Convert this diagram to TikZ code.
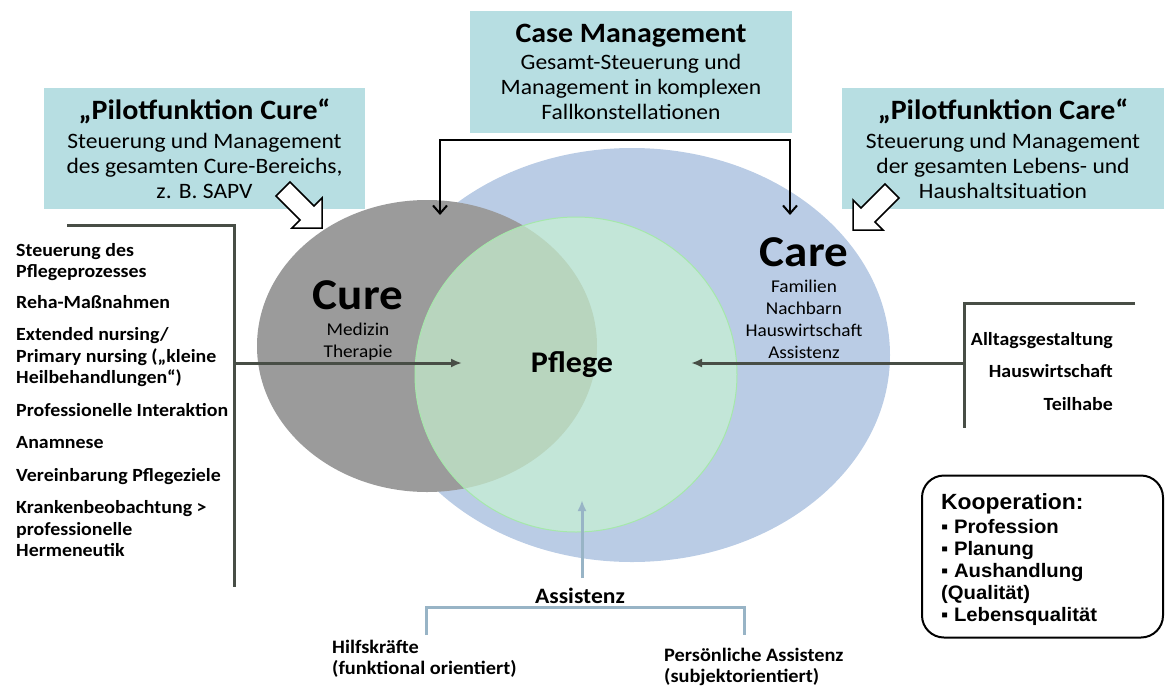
\documentclass[tikz,border=0pt]{standalone}
\usepackage{fontspec}
\setmainfont{Carlito}[FakeStretch=1.07]
\newfontfamily\arialfont{Liberation Sans}[FakeStretch=1.04]
\usepackage{tikz}
\usetikzlibrary{shapes,arrows,arrows.meta,positioning}
\definecolor{boxteal}{RGB}{183,222,226}
\definecolor{curegray}{RGB}{155,155,155}
\definecolor{careblue}{RGB}{186,204,229}
\definecolor{pflegegreen}{RGB}{200,245,210}
\definecolor{pflegeedge}{RGB}{165,232,170}
\definecolor{bracketgray}{RGB}{72,78,70}
\definecolor{assistblue}{RGB}{152,180,198}
\tikzstyle{pilot} = [rectangle, fill=boxteal, draw=none, align=center, inner sep=0pt, minimum width=321pt, minimum height=121pt, font=\fontsize{22}{25}\selectfont]
\tikzstyle{bigtitle} = [draw=none, fill=none, inner sep=0pt, font=\fontsize{44}{48}\selectfont\bfseries]
\tikzstyle{subtext} = [draw=none, fill=none, inner sep=0pt, align=center, font=\fontsize{18}{22}\selectfont]
\tikzstyle{listtext} = [draw=none, fill=none, inner sep=0pt, align=left, font=\fontsize{18.6}{21.5}\selectfont\bfseries]
\tikzstyle{bracket} = [draw=bracketgray, line width=3pt]
\tikzstyle{bracketarrow} = [draw=bracketgray, line width=3pt, -{Latex[length=11pt,width=9pt]}]
\tikzstyle{cmarrow} = [draw=black, line width=2pt, {Straight Barb[length=8pt,width=14pt]}-{Straight Barb[length=8pt,width=14pt]}]
\tikzstyle{blockarrow} = [draw=black, fill=white, line width=1.5pt, line join=miter]
\tikzstyle{assistline} = [draw=assistblue, line width=3pt]
\tikzstyle{assistarrow} = [draw=assistblue, line width=3pt, -{Latex[length=11pt,width=9pt]}]
\tikzstyle{koopbox} = [rectangle, rounded corners=22pt, draw=black, line width=2pt, fill=white, minimum width=241pt, minimum height=162pt]

\begin{document}
\begin{tikzpicture}[x=1pt, y=-1pt]
\useasboundingbox (0,0) rectangle (1165,686);

% circles =============================
\node[ellipse, fill=careblue, inner sep=0pt, minimum width=516pt, minimum height=414pt] (care) at (632,355) {};
\node[ellipse, fill=curegray, inner sep=0pt, minimum width=340pt, minimum height=292pt] (cure) at (427,346) {};
\node[ellipse, fill=pflegegreen, fill opacity=0.65, draw=pflegeedge, line width=1pt, inner sep=0pt, minimum width=322pt, minimum height=315pt] (pflege) at (576,374.5) {};

\node[bigtitle] (curetitle) at (358,295) {Cure};
\node[subtext, anchor=north] (curesub) at (358,323) {Medizin\\Therapie};
\node[bigtitle] (caretitle) at (804,252) {Care};
\node[subtext, anchor=north] (caresub) at (804,280) {Familien\\Nachbarn\\Hauswirtschaft\\Assistenz};
\node[bigtitle, font=\fontsize{30}{32}\selectfont\bfseries, anchor=base] (pflegetitle) at (572,372) {Pflege};

% boxes =============================
\node[pilot] (pilotcure) at (204.5,148.5) {{\fontsize{28}{30}\selectfont\bfseries „Pilotfunktion Cure“}\\[4pt]Steuerung und Management\\des gesamten Cure-Bereichs,\\z. B. SAPV};
\node[pilot, minimum width=322pt, minimum height=122pt] (casemgmt) at (631,72) {{\fontsize{28}{30}\selectfont\bfseries Case Management}\\[2pt]Gesamt-Steuerung und\\Management in komplexen\\Fallkonstellationen};
\node[pilot, minimum width=322pt] (pilotcare) at (1003,148.5) {{\fontsize{28}{30}\selectfont\bfseries „Pilotfunktion Care“}\\[4pt]Steuerung und Management\\der gesamten Lebens- und\\Haushaltsituation};

% pilot arrows
\coordinate (curetip) at (322,228);
\coordinate (caretip) at (853,230);
\draw[blockarrow, shift={(curetip)}] (0,0) -- (-30,0) -- (-22,-8) -- (-46,-32) -- (-32,-46) -- (-8,-22) -- (0,-30) -- cycle;
\draw[blockarrow, shift={(caretip)}] (0,0) -- (30,0) -- (22,-8) -- (46,-32) -- (32,-46) -- (8,-22) -- (0,-30) -- cycle;

% case management edges
\coordinate (cmleft) at (440,215);
\coordinate (cmright) at (790,215);
\coordinate (cmtop) at (615,140);
\path[cmarrow] (cmleft) |- (cmtop) -| (cmright);

% lists =============================
\node[listtext, anchor=north west] (curelist) at (16,243) {Steuerung des\\Pflegeprozesses\\[9pt]Reha-Maßnahmen\\[11pt]Extended nursing/\\Primary nursing („kleine\\Heilbehandlungen“)\\[11pt]Professionelle Interaktion\\[11pt]Anamnese\\[11pt]Vereinbarung Pflegeziele\\[11pt]Krankenbeobachtung >\\professionelle\\Hermeneutik};
\node[listtext, align=right, anchor=north east] (carelist) at (1113,332) {Alltagsgestaltung\\[11pt]Hauswirtschaft\\[11pt]Teilhabe};

\coordinate (lbstart) at (67,225);
\coordinate (lbcorner) at (234,225);
\coordinate (lbend) at (234,587);
\coordinate (lbjoin) at (234,363);
\coordinate (pflegeleft) at (462,363);
\path[bracket] (lbstart) -- (lbcorner) -- (lbend);
\path[bracketarrow] (lbjoin) -- (pflegeleft);

\coordinate (rbstart) at (1135,303);
\coordinate (rbcorner) at (964,303);
\coordinate (rbend) at (964,428);
\coordinate (rbjoin) at (964,363);
\coordinate (pflegeright) at (691,363);
\path[bracket] (rbstart) -- (rbcorner) -- (rbend);
\path[bracketarrow] (rbjoin) -- (pflegeright);

% assistenz =============================
\node[listtext, font=\fontsize{22}{24}\selectfont\bfseries] (assist) at (580,596) {Assistenz};
\coordinate (assistbot) at (582,578);
\coordinate (assisttip) at (582,500);
\path[assistarrow] (assistbot) -- (assisttip);

\coordinate (abl) at (426,635);
\coordinate (abr) at (744,635);
\coordinate (abtop) at (585,607);
\path[assistline] (abl) |- (abtop) -| (abr);

\node[listtext, font=\fontsize{19}{21}\selectfont\bfseries, anchor=north west] (helpers) at (332,640) {Hilfskräfte\\(funktional orientiert)};
\node[listtext, font=\fontsize{19}{21}\selectfont\bfseries, anchor=north west] (personal) at (664,648) {Persönliche Assistenz\\(subjektorientiert)};

% kooperation =============================
\node[koopbox] (koop) at (1042.5,556.5) {};
\node[listtext, font=\arialfont\fontsize{19.5}{22}\selectfont\bfseries, anchor=north west] (kooplist) at (941,493) {{\fontsize{22}{24}\selectfont Kooperation:}\\[2pt]▪ Profession\\▪ Planung\\▪ Aushandlung\\(Qualität)\\▪ Lebensqualität};

\end{tikzpicture}
\end{document}
